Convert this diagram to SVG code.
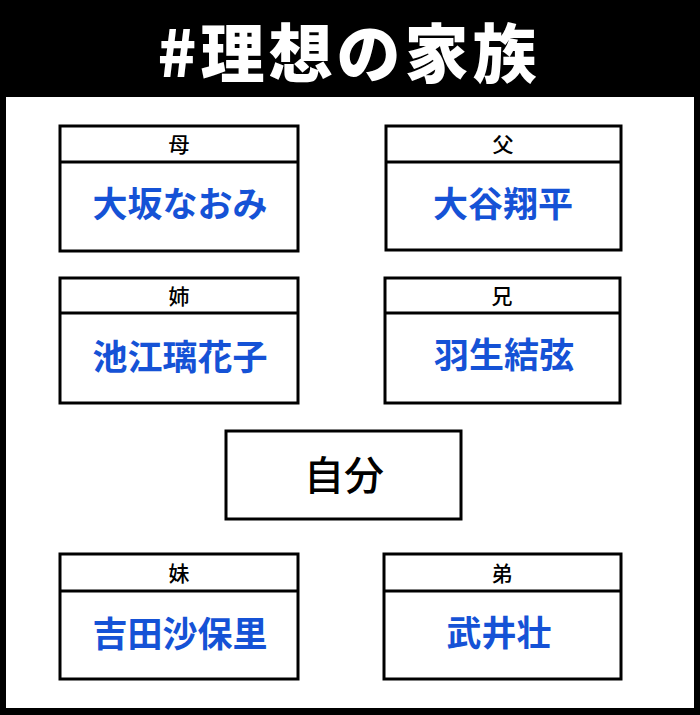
<svg xmlns="http://www.w3.org/2000/svg" width="700" height="715" viewBox="0 0 700 715">
<style>
.box{fill:#fff;stroke:#000;stroke-width:3}
.div{stroke:#000;stroke-width:3}
.hd{font-family:"Noto Sans CJK JP","Noto Sans CJK SC",sans-serif;font-size:21px;font-weight:500;fill:#000;text-anchor:middle;dominant-baseline:central}
.nm{font-family:"Noto Sans CJK JP","Noto Sans CJK SC",sans-serif;font-size:35px;font-weight:700;fill:#1552d6;text-anchor:middle;dominant-baseline:central}
.self{font-family:"Noto Sans CJK JP","Noto Sans CJK SC",sans-serif;font-size:40px;font-weight:500;fill:#000;text-anchor:middle;dominant-baseline:central}
.title{font-family:"Noto Sans CJK JP","Noto Sans CJK SC",sans-serif;font-size:64px;font-weight:900;fill:#fff;text-anchor:middle;letter-spacing:4px}
</style>
<rect x="0" y="0" width="700" height="715" fill="#000"/>
<rect x="6" y="97" width="688" height="611" fill="#fff"/>
<text class="title" x="349" y="77">#理想の家族</text>
<g id="mother">
<rect class="box" x="60" y="126" width="238" height="125"/>
<line class="div" x1="60" y1="162" x2="298" y2="162"/>
<text class="hd" x="179" y="143">母</text>
<text class="nm" x="180" y="201">大坂なおみ</text>
</g>
<g id="father">
<rect class="box" x="386" y="126" width="235" height="124"/>
<line class="div" x1="386" y1="162" x2="621" y2="162"/>
<text class="hd" x="503" y="143">父</text>
<text class="nm" x="503" y="201">大谷翔平</text>
</g>
<g id="older-sister">
<rect class="box" x="60" y="278" width="238" height="125"/>
<line class="div" x1="60" y1="313" x2="298" y2="313"/>
<text class="hd" x="179" y="295">姉</text>
<text class="nm" x="180" y="354">池江璃花子</text>
</g>
<g id="older-brother">
<rect class="box" x="385" y="278" width="235" height="125"/>
<line class="div" x1="385" y1="313" x2="620" y2="313"/>
<text class="hd" x="502" y="295">兄</text>
<text class="nm" x="504" y="352">羽生結弦</text>
</g>
<g id="self">
<rect class="box" x="226" y="431" width="235" height="88"/>
<text class="self" x="344" y="473">自分</text>
</g>
<g id="younger-sister">
<rect class="box" x="60" y="554" width="238" height="125"/>
<line class="div" x1="60" y1="591" x2="298" y2="591"/>
<text class="hd" x="179" y="572">妹</text>
<text class="nm" x="180" y="631">吉田沙保里</text>
</g>
<g id="younger-brother">
<rect class="box" x="384" y="554" width="237" height="125"/>
<line class="div" x1="384" y1="591" x2="621" y2="591"/>
<text class="hd" x="502" y="572">弟</text>
<text class="nm" x="499" y="630">武井壮</text>
</g>
<g id="connectors"></g>
</svg>
